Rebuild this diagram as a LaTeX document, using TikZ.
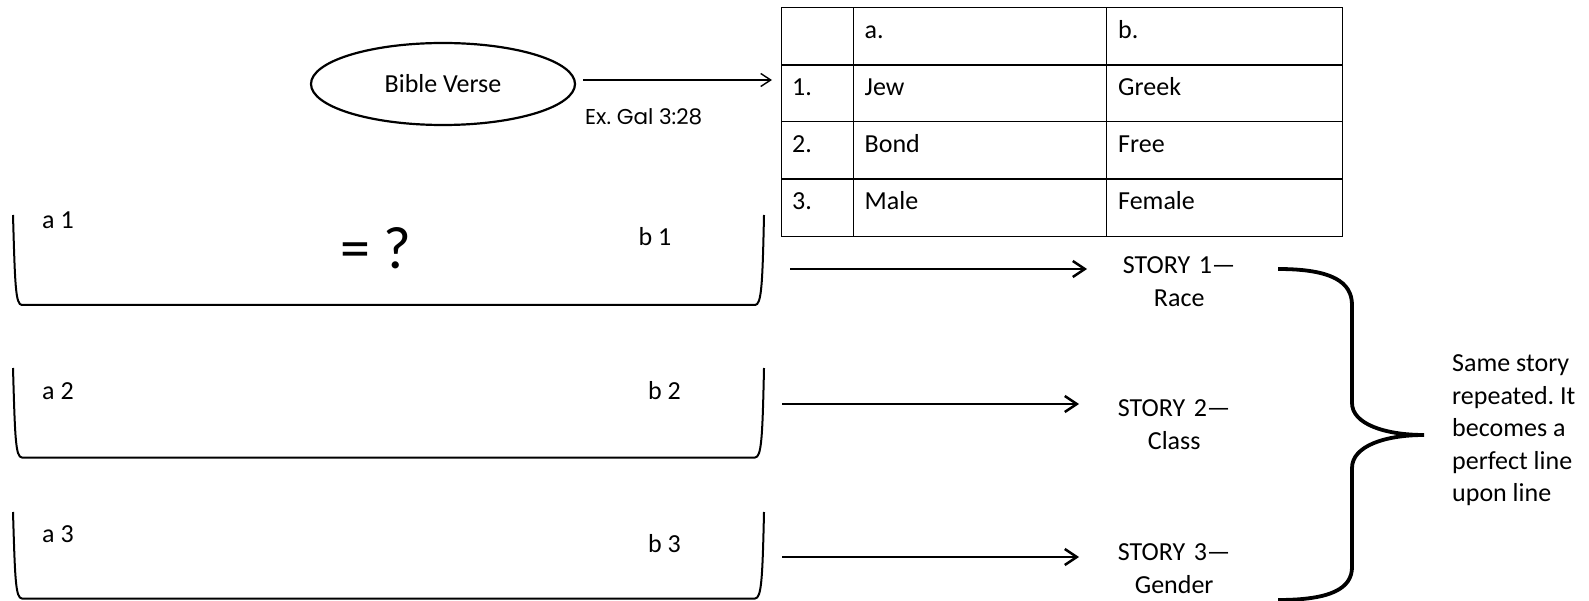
\documentclass[tikz,border=0pt]{standalone}
\usepackage{fontspec}
\setmainfont{Carlito}
\newfontfamily\handfont{Poppins}
\usetikzlibrary{shapes.geometric,arrows.meta}
\frenchspacing
\begin{document}
\begin{tikzpicture}[x=1pt,y=-1pt,
  txt/.style={inner sep=0pt,font=\fontsize{26}{33}\selectfont},
  cell/.style={txt,anchor=base west},
  boxline/.style={line width=2pt,line join=round},
  bigarr/.style={line width=2.5pt,-{Straight Barb[length=12pt,width=16pt]}},
  thinarr/.style={line width=1.4pt,-{Straight Barb[length=10pt,width=13pt]}},
  storynode/.style={txt,align=center,anchor=north west},
  gridline/.style={line width=1.2pt}]
\fill[white] (0,0) rectangle (1589,601);
\useasboundingbox (0,0) rectangle (1589,601);

% Bible verse ellipse
\node[ellipse,draw,line width=2.2pt,minimum width=264pt,minimum height=82pt,inner sep=0pt,
      font=\fontsize{26}{33}\selectfont] (verse) at (443,84) {Bible Verse};
\node[anchor=base west,inner sep=0pt,font=\handfont\fontsize{21.5}{24}\selectfont] (ex) at (585,125) {Ex. Gal 3:28};

% table
\node[draw,line width=1.2pt,minimum width=560.7pt,minimum height=228.7pt,inner sep=0pt,anchor=north west] (table) at (781,7.3) {};
\draw[gridline] (853.3,7.3) -- (853.3,236);
\draw[gridline] (1106.7,7.3) -- (1106.7,236);
\draw[gridline] (781,65) -- (1341.7,65);
\draw[gridline] (781,121.7) -- (1341.7,121.7);
\draw[gridline] (781,179) -- (1341.7,179);
\node[cell] (ca) at (864.5,39) {a.};
\node[cell] (cb) at (1118,39) {b.};
\node[cell] (c1) at (792,96) {1.};
\node[cell] (c1a) at (864.5,96) {Jew};
\node[cell] (c1b) at (1118,96) {Greek};
\node[cell] (c2) at (792,153) {2.};
\node[cell] (c2a) at (864.5,153) {Bond};
\node[cell] (c2b) at (1118,153) {Free};
\node[cell] (c3) at (792,210) {3.};
\node[cell] (c3a) at (864.5,210) {Male};
\node[cell] (c3b) at (1118,210) {Female};

\draw[thinarr] ([xshift=7pt,yshift=4pt]verse.east) -- ([xshift=-9pt,yshift=4pt]verse.east -| table.west);

% U-shaped boxes
\foreach \t/\b in {215/305, 368/457.5, 512/598.5}{
  \draw[boxline] (13,\t) .. controls (15,\b-20) and (15.5,\b) .. (22,\b) -- (755,\b)
     .. controls (761.5,\b) and (762.5,\b-20) .. (764,\t);
}
\node[cell] (a1) at (42,228.3) {a 1};
\node[cell] (b1) at (638.5,245.7) {b 1};
\node[anchor=base west,inner sep=0pt,font=\fontsize{60}{70}\selectfont] (eq) at (340,268.3) {= ?};
\node[cell] (a2) at (42,399) {a 2};
\node[cell] (b2) at (648,399) {b 2};
\node[cell] (a3) at (42,542.7) {a 3};
\node[cell] (b3) at (648,552.3) {b 3};

% stories
\node[storynode,text width=184pt] (story1) at (1087,256.3) {STORY 1—\\Race};
\node[storynode,text width=190pt] (story2) at (1079,399.7) {STORY 2—\\Class};
\node[storynode,text width=190pt] (story3) at (1079,543.7) {STORY 3—\\Gender};

\coordinate (t1) at (790,269);
\coordinate (t2) at (782,404);
\coordinate (t3) at (782,557);
\draw[bigarr] (t1) -- (t1 -| story1.west);
\draw[bigarr] (t2) -- (t2 -| story2.west);
\draw[bigarr] (t3) -- (t3 -| story3.west);

% brace
\draw[line width=3.8pt] (1278,269) .. controls (1332,269) and (1352,282) .. (1352,305) -- (1352,403)
  .. controls (1352,424) and (1385,435) .. (1424,435)
  .. controls (1385,435) and (1352,446) .. (1352,468) -- (1352,567)
  .. controls (1352,588) and (1332,600) .. (1278,600);

\node[txt,align=left,anchor=north west,font=\fontsize{26}{32.5}\selectfont] (note) at (1452,354.5)
  {Same story\\repeated. It\\becomes a\\perfect line\\upon line};
\end{tikzpicture}
\end{document}
